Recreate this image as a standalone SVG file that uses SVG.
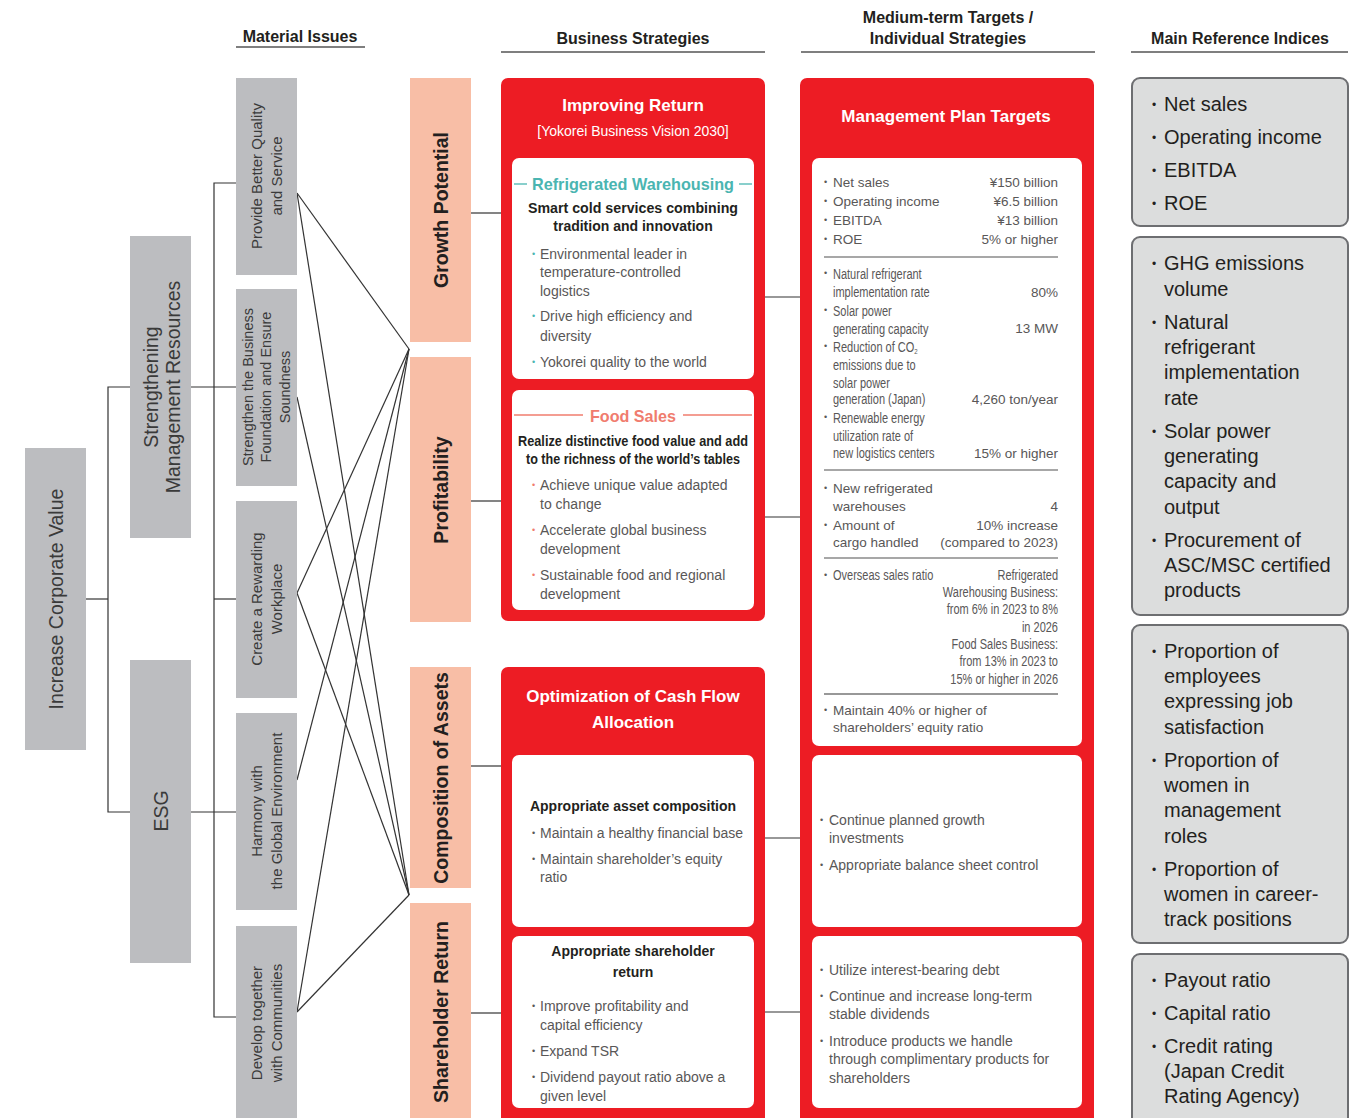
<svg xmlns="http://www.w3.org/2000/svg" width="1369" height="1118" viewBox="0 0 1369 1118">
<style>
text{font-family:"Liberation Sans",Arial,sans-serif}
.hd{font-size:16px;font-weight:bold;fill:#231f20;text-anchor:middle}
.hl{stroke:#555;stroke-width:1.5}
.gb{fill:#bcbdc0}
.gt{font-size:19.5px;fill:#3a3a3a;text-anchor:middle}
.mt{font-size:15px;fill:#3a3a3a;text-anchor:middle}
.mt2{font-size:14.5px;fill:#3a3a3a;text-anchor:middle}
.pb{fill:#f8bea6}
.pt{font-size:19.5px;font-weight:bold;fill:#231f20;text-anchor:middle}
.rb{fill:#ed1c24}
.wb{fill:#fff}
.wt{fill:#fff;font-weight:bold;font-size:17px;text-anchor:middle}
.ws{fill:#fff;font-size:14px;text-anchor:middle}
.bh{font-size:14px;font-weight:bold;fill:#231f20;text-anchor:middle}
.bt{font-size:14px;fill:#595757}
.tb{fill:#4ab5b1;font-size:9px}
.sb{fill:#f07c6e;font-size:9px}
.db{fill:#595757;font-size:9px}
.pl{font-size:13.5px;fill:#595757}
.pr{font-size:13.5px;fill:#595757;text-anchor:end}
.cl{font-size:14.5px;fill:#595757}
.cr{font-size:14.5px;fill:#595757;text-anchor:end}
.sep{stroke:#8a8a8a;stroke-width:1.3}
.ib{fill:#dcdddd;stroke:#6d6e71;stroke-width:2}
.it{font-size:20px;fill:#231f20}
.ibu{font-size:12px;fill:#231f20}
.cn{stroke:#333;stroke-width:1.2;fill:none}
</style>

<g id="headers">
<text class="hd" x="300" y="42">Material Issues</text>
<line class="hl" x1="236" y1="47" x2="365" y2="47"/>
<text class="hd" x="633" y="44">Business Strategies</text>
<line class="hl" x1="501" y1="52" x2="765" y2="52"/>
<text class="hd" x="948" y="23">Medium-term Targets /</text>
<text class="hd" x="948" y="44">Individual Strategies</text>
<line class="hl" x1="801" y1="52" x2="1095" y2="52"/>
<text class="hd" x="1240" y="44">Main Reference Indices</text>
<line class="hl" x1="1131" y1="52" x2="1348" y2="52"/>
</g>

<g id="connectors">
<polyline class="cn" points="86,599 108,599"/>
<polyline class="cn" points="130,387 108,387 108,812 130,812"/>
<line class="cn" x1="191" y1="387" x2="236" y2="387"/>
<line class="cn" x1="191" y1="812" x2="236" y2="812"/>
<polyline class="cn" points="236,183 214,183 214,1017 236,1017"/>
<line class="cn" x1="214" y1="599" x2="236" y2="599"/>
<line class="cn" x1="297" y1="193" x2="409" y2="349"/>
<line class="cn" x1="297" y1="193" x2="409" y2="895"/>
<line class="cn" x1="297" y1="397" x2="409" y2="895"/>
<line class="cn" x1="297" y1="593" x2="409" y2="349"/>
<line class="cn" x1="297" y1="593" x2="409" y2="895"/>
<line class="cn" x1="297" y1="780" x2="409" y2="349"/>
<line class="cn" x1="297" y1="1012" x2="409" y2="349"/>
<line class="cn" x1="297" y1="1012" x2="409" y2="895"/>
<line class="cn" x1="471" y1="213" x2="501" y2="213"/>
<line class="cn" x1="471" y1="501" x2="501" y2="501"/>
<line class="cn" x1="471" y1="766" x2="501" y2="766"/>
<line class="cn" x1="471" y1="1013" x2="501" y2="1013"/>
<line class="cn" x1="765" y1="297" x2="800" y2="297"/>
<line class="cn" x1="765" y1="517" x2="800" y2="517"/>
<line class="cn" x1="765" y1="838" x2="800" y2="838"/>
<line class="cn" x1="765" y1="1012" x2="800" y2="1012"/>
</g>

<g id="increase-corporate-value">
<rect class="gb" x="25" y="448" width="61" height="302"/>
<text class="gt" transform="translate(55.5,599) rotate(-90)" y="7">Increase Corporate Value</text>
</g>
<g id="strengthening-management-resources">
<rect class="gb" x="130" y="236" width="61" height="302"/>
<text class="gt" transform="translate(160.5,387) rotate(-90)"><tspan x="0" y="-3">Strengthening</tspan><tspan x="0" y="19">Management Resources</tspan></text>
</g>
<g id="esg">
<rect class="gb" x="130" y="660" width="61" height="303"/>
<text class="gt" transform="translate(160.5,811) rotate(-90)" y="7">ESG</text>
</g>

<g id="provide-better-quality">
<rect class="gb" x="236" y="78" width="61" height="197"/>
<text class="mt" transform="translate(266.5,176) rotate(-90)"><tspan x="0" y="-4.5">Provide Better Quality</tspan><tspan x="0" y="15.5">and Service</tspan></text>
</g>
<g id="strengthen-business-foundation">
<rect class="gb" x="236" y="289" width="61" height="197"/>
<text class="mt2" transform="translate(266.5,387) rotate(-90)"><tspan x="0" y="-13.5">Strengthen the Business</tspan><tspan x="0" y="4.5">Foundation and Ensure</tspan><tspan x="0" y="23.5">Soundness</tspan></text>
</g>
<g id="rewarding-workplace">
<rect class="gb" x="236" y="501" width="61" height="197"/>
<text class="mt" transform="translate(266.5,599) rotate(-90)"><tspan x="0" y="-4.5">Create a Rewarding</tspan><tspan x="0" y="15.5">Workplace</tspan></text>
</g>
<g id="harmony-global-environment">
<rect class="gb" x="236" y="713" width="61" height="197"/>
<text class="mt" transform="translate(266.5,811) rotate(-90)"><tspan x="0" y="-4.5">Harmony with</tspan><tspan x="0" y="15.5">the Global Environment</tspan></text>
</g>
<g id="develop-communities">
<rect class="gb" x="236" y="926" width="61" height="192"/>
<text class="mt" transform="translate(266.5,1023) rotate(-90)"><tspan x="0" y="-4.5">Develop together</tspan><tspan x="0" y="15.5">with Communities</tspan></text>
</g>

<g id="growth-potential">
<rect class="pb" x="410" y="78" width="61" height="264"/>
<text class="pt" transform="translate(441,210) rotate(-90)" y="7">Growth Potential</text>
</g>
<g id="profitability">
<rect class="pb" x="410" y="357" width="61" height="265"/>
<text class="pt" transform="translate(441,490) rotate(-90)" y="7">Profitability</text>
</g>
<g id="composition-of-assets">
<rect class="pb" x="410" y="667" width="61" height="221"/>
<text class="pt" transform="translate(441,778) rotate(-90)" y="7">Composition of Assets</text>
</g>
<g id="shareholder-return">
<rect class="pb" x="410" y="903" width="61" height="215"/>
<text class="pt" transform="translate(441,1012) rotate(-90)" y="7">Shareholder Return</text>
</g>

<g id="improving-return">
<rect class="rb" x="501" y="78" width="264" height="543" rx="7"/>
<text class="wt" x="633" y="111">Improving Return</text>
<text class="ws" x="633" y="136">[Yokorei Business Vision 2030]</text>
<rect class="wb" x="512" y="158" width="242" height="221" rx="7"/>
<line x1="514" y1="184" x2="527" y2="184" stroke="#4ab5b1" stroke-width="1.3"/>
<line x1="739" y1="184" x2="752" y2="184" stroke="#4ab5b1" stroke-width="1.3"/>
<text x="633" y="190" font-size="17" font-weight="bold" fill="#4ab5b1" text-anchor="middle" textLength="202" lengthAdjust="spacingAndGlyphs">Refrigerated Warehousing</text>
<text class="bh" x="633" y="213" textLength="210" lengthAdjust="spacingAndGlyphs">Smart cold services combining</text>
<text class="bh" x="633" y="231">tradition and innovation</text>
<text class="bt"><tspan class="tb" x="532" y="257">•</tspan><tspan x="540" y="259">Environmental leader in</tspan><tspan x="540" y="277">temperature-controlled</tspan><tspan x="540" y="296">logistics</tspan><tspan class="tb" x="532" y="319">•</tspan><tspan x="540" y="321">Drive high efficiency and</tspan><tspan x="540" y="341">diversity</tspan><tspan class="tb" x="532" y="365">•</tspan><tspan x="540" y="367">Yokorei quality to the world</tspan></text>
<rect class="wb" x="512" y="390" width="242" height="220" rx="7"/>
<line x1="514" y1="415" x2="583" y2="415" stroke="#f07c6e" stroke-width="1.3"/>
<line x1="683" y1="415" x2="752" y2="415" stroke="#f07c6e" stroke-width="1.3"/>
<text x="633" y="422" font-size="17" font-weight="bold" fill="#f07c6e" text-anchor="middle" textLength="86" lengthAdjust="spacingAndGlyphs">Food Sales</text>
<text class="bh" x="633" y="446" textLength="230" lengthAdjust="spacingAndGlyphs">Realize distinctive food value and add</text>
<text class="bh" x="633" y="464" textLength="214" lengthAdjust="spacingAndGlyphs">to the richness of the world’s tables</text>
<text class="bt"><tspan class="sb" x="532" y="488">•</tspan><tspan x="540" y="490">Achieve unique value adapted</tspan><tspan x="540" y="509">to change</tspan><tspan class="sb" x="532" y="533">•</tspan><tspan x="540" y="535">Accelerate global business</tspan><tspan x="540" y="554">development</tspan><tspan class="sb" x="532" y="578">•</tspan><tspan x="540" y="580">Sustainable food and regional</tspan><tspan x="540" y="599">development</tspan></text>
</g>

<g id="cash-flow-allocation">
<rect class="rb" x="501" y="667" width="264" height="460" rx="7"/>
<text class="wt" x="633" y="702">Optimization of Cash Flow</text>
<text class="wt" x="633" y="728">Allocation</text>
<rect class="wb" x="512" y="755" width="242" height="172" rx="7"/>
<text class="bh" x="633" y="811">Appropriate asset composition</text>
<text class="bt"><tspan class="db" x="532" y="836">•</tspan><tspan x="540" y="838">Maintain a healthy financial base</tspan><tspan class="db" x="532" y="862">•</tspan><tspan x="540" y="864">Maintain shareholder’s equity</tspan><tspan x="540" y="882">ratio</tspan></text>
<rect class="wb" x="512" y="936" width="242" height="172" rx="7"/>
<text class="bh" x="633" y="956">Appropriate shareholder</text>
<text class="bh" x="633" y="977">return</text>
<text class="bt"><tspan class="db" x="532" y="1009">•</tspan><tspan x="540" y="1011">Improve profitability and</tspan><tspan x="540" y="1030">capital efficiency</tspan><tspan class="db" x="532" y="1054">•</tspan><tspan x="540" y="1056">Expand TSR</tspan><tspan class="db" x="532" y="1080">•</tspan><tspan x="540" y="1082">Dividend payout ratio above a</tspan><tspan x="540" y="1101">given level</tspan></text>
</g>

<g id="management-plan-targets">
<rect class="rb" x="800" y="78" width="294" height="1049" rx="7"/>
<text class="wt" x="946" y="122">Management Plan Targets</text>
<rect class="wb" x="812" y="158" width="270" height="588" rx="7"/>
<text class="pl"><tspan class="db" x="824" y="185">•</tspan><tspan x="833" y="187">Net sales</tspan><tspan class="db" x="824" y="204">•</tspan><tspan x="833" y="206">Operating income</tspan><tspan class="db" x="824" y="223">•</tspan><tspan x="833" y="225">EBITDA</tspan><tspan class="db" x="824" y="242">•</tspan><tspan x="833" y="244">ROE</tspan></text>
<text class="pr"><tspan x="1058" y="187">¥150 billion</tspan><tspan x="1058" y="206">¥6.5 billion</tspan><tspan x="1058" y="225">¥13 billion</tspan><tspan x="1058" y="244">5% or higher</tspan></text>
<line class="sep" x1="824" y1="257" x2="1058" y2="257"/>
<text class="db"><tspan x="824" y="276">•</tspan><tspan x="824" y="313">•</tspan><tspan x="824" y="349">•</tspan><tspan x="824" y="420">•</tspan></text>
<g transform="translate(833,0) scale(0.76,1)">
<text class="cl"><tspan x="0" y="279">Natural refrigerant</tspan><tspan x="0" y="297">implementation rate</tspan><tspan x="0" y="316">Solar power</tspan><tspan x="0" y="334">generating capacity</tspan><tspan x="0" y="352">Reduction of CO<tspan font-size="8" dy="2">2</tspan></tspan><tspan x="0" y="370">emissions due to</tspan><tspan x="0" y="388">solar power</tspan><tspan x="0" y="404">generation (Japan)</tspan><tspan x="0" y="423">Renewable energy</tspan><tspan x="0" y="441">utilization rate of</tspan><tspan x="0" y="458">new logistics centers</tspan></text>
</g>
<text class="pr"><tspan x="1058" y="297">80%</tspan><tspan x="1058" y="333">13 MW</tspan><tspan x="1058" y="404">4,260 ton/year</tspan><tspan x="1058" y="458">15% or higher</tspan></text>
<line class="sep" x1="824" y1="470" x2="1058" y2="470"/>
<text class="pl"><tspan class="db" x="824" y="491">•</tspan><tspan x="833" y="493">New refrigerated</tspan><tspan x="833" y="511">warehouses</tspan><tspan class="db" x="824" y="528">•</tspan><tspan x="833" y="530">Amount of</tspan><tspan x="833" y="547">cargo handled</tspan></text>
<text class="pr"><tspan x="1058" y="511">4</tspan><tspan x="1058" y="530">10% increase</tspan><tspan x="1058" y="547">(compared to 2023)</tspan></text>
<line class="sep" x1="824" y1="558" x2="1058" y2="558"/>
<text class="db" x="824" y="578">•</text>
<g transform="translate(833,0) scale(0.76,1)">
<text class="cl" x="0" y="580">Overseas sales ratio</text>
</g>
<g transform="translate(1058,0) scale(0.76,1)">
<text class="cr"><tspan x="0" y="580">Refrigerated</tspan><tspan x="0" y="597">Warehousing Business:</tspan><tspan x="0" y="614">from 6% in 2023 to 8%</tspan><tspan x="0" y="632">in 2026</tspan><tspan x="0" y="649">Food Sales Business:</tspan><tspan x="0" y="666">from 13% in 2023 to</tspan><tspan x="0" y="684">15% or higher in 2026</tspan></text>
</g>
<line x1="824" y1="694" x2="1058" y2="694" stroke="#333" stroke-width="1.2"/>
<text class="pl"><tspan class="db" x="824" y="713">•</tspan><tspan x="833" y="715">Maintain 40% or higher of</tspan><tspan x="833" y="732">shareholders’ equity ratio</tspan></text>
<rect class="wb" x="812" y="755" width="270" height="172" rx="7"/>
<text class="bt"><tspan class="db" x="820" y="823">•</tspan><tspan x="829" y="825">Continue planned growth</tspan><tspan x="829" y="843">investments</tspan><tspan class="db" x="820" y="868">•</tspan><tspan x="829" y="870">Appropriate balance sheet control</tspan></text>
<rect class="wb" x="812" y="936" width="270" height="172" rx="7"/>
<text class="bt"><tspan class="db" x="820" y="973">•</tspan><tspan x="829" y="975">Utilize interest-bearing debt</tspan><tspan class="db" x="820" y="999">•</tspan><tspan x="829" y="1001">Continue and increase long-term</tspan><tspan x="829" y="1019">stable dividends</tspan><tspan class="db" x="820" y="1044">•</tspan><tspan x="829" y="1046">Introduce products we handle</tspan><tspan x="829" y="1064">through complimentary products for</tspan><tspan x="829" y="1083">shareholders</tspan></text>
</g>

<g id="indices-financial">
<rect class="ib" x="1132" y="78" width="216" height="148" rx="8"/>
<text class="it"><tspan class="ibu" x="1152" y="109">•</tspan><tspan x="1164" y="111">Net sales</tspan><tspan class="ibu" x="1152" y="142">•</tspan><tspan x="1164" y="144">Operating income</tspan><tspan class="ibu" x="1152" y="175">•</tspan><tspan x="1164" y="177">EBITDA</tspan><tspan class="ibu" x="1152" y="208">•</tspan><tspan x="1164" y="210">ROE</tspan></text>
</g>
<g id="indices-environment">
<rect class="ib" x="1132" y="237" width="216" height="378" rx="8"/>
<text class="it"><tspan class="ibu" x="1152" y="268">•</tspan><tspan x="1164" y="270">GHG emissions</tspan><tspan x="1164" y="296">volume</tspan><tspan class="ibu" x="1152" y="327">•</tspan><tspan x="1164" y="329">Natural</tspan><tspan x="1164" y="354">refrigerant</tspan><tspan x="1164" y="379">implementation</tspan><tspan x="1164" y="405">rate</tspan><tspan class="ibu" x="1152" y="436">•</tspan><tspan x="1164" y="438">Solar power</tspan><tspan x="1164" y="463">generating</tspan><tspan x="1164" y="488">capacity and</tspan><tspan x="1164" y="514">output</tspan><tspan class="ibu" x="1152" y="545">•</tspan><tspan x="1164" y="547">Procurement of</tspan><tspan x="1164" y="572">ASC/MSC certified</tspan><tspan x="1164" y="597">products</tspan></text>
</g>
<g id="indices-workplace">
<rect class="ib" x="1132" y="625" width="216" height="318" rx="8"/>
<text class="it"><tspan class="ibu" x="1152" y="656">•</tspan><tspan x="1164" y="658">Proportion of</tspan><tspan x="1164" y="683">employees</tspan><tspan x="1164" y="708">expressing job</tspan><tspan x="1164" y="734">satisfaction</tspan><tspan class="ibu" x="1152" y="765">•</tspan><tspan x="1164" y="767">Proportion of</tspan><tspan x="1164" y="792">women in</tspan><tspan x="1164" y="817">management</tspan><tspan x="1164" y="843">roles</tspan><tspan class="ibu" x="1152" y="874">•</tspan><tspan x="1164" y="876">Proportion of</tspan><tspan x="1164" y="901">women in career-</tspan><tspan x="1164" y="926">track positions</tspan></text>
</g>
<g id="indices-shareholder">
<rect class="ib" x="1132" y="954" width="216" height="174" rx="8"/>
<text class="it"><tspan class="ibu" x="1152" y="985">•</tspan><tspan x="1164" y="987">Payout ratio</tspan><tspan class="ibu" x="1152" y="1018">•</tspan><tspan x="1164" y="1020">Capital ratio</tspan><tspan class="ibu" x="1152" y="1051">•</tspan><tspan x="1164" y="1053">Credit rating</tspan><tspan x="1164" y="1078">(Japan Credit</tspan><tspan x="1164" y="1103">Rating Agency)</tspan></text>
</g>
</svg>
